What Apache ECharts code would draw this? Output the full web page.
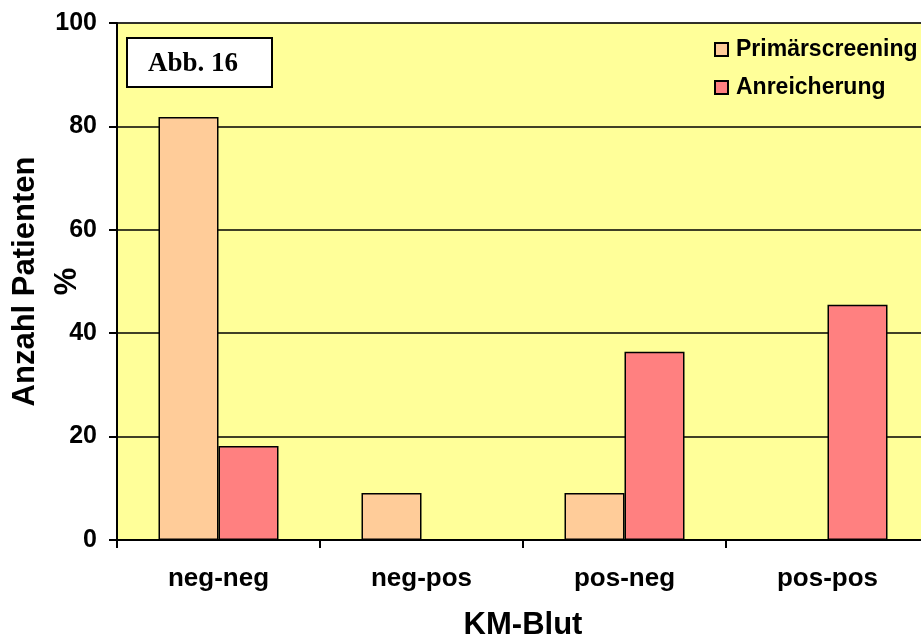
<!DOCTYPE html>
<html>
<head>
<meta charset="utf-8">
<script src="https://cdn.jsdelivr.net/npm/echarts@6/dist/echarts.min.js"></script>
<style>
html,body{margin:0;padding:0;background:#fff;}
#chart{width:921px;height:637px;}
</style>
</head>
<body>
<div id="chart"></div>
<script>
const categories = ['neg-neg', 'neg-pos', 'pos-neg', 'pos-pos'];
const primaer = [81.8, 9.1, 9.1, 0];
const anreicherung = [18.2, 0, 36.4, 45.5];
const seriesNames = ['Primärscreening', 'Anreicherung'];
const yTicks = { min: 0, max: 100, interval: 20 };

const FONT = '"Liberation Sans", Arial, sans-serif';
const chart = echarts.init(document.getElementById('chart'), null, { renderer: 'canvas' });

const barStyle = (color) => ({ color: color, borderColor: '#000', borderWidth: 1.5 });

chart.setOption({
  animation: false,
  backgroundColor: '#ffffff',
  grid: { left: 117, top: 23, right: -8, bottom: 97, containLabel: false, outerBoundsMode: 'none', show: true, backgroundColor: '#FFFF99', borderColor: '#808080', borderWidth: 1 },
  legend: {
    orient: 'vertical',
    left: 709,
    top: 33,
    itemWidth: 13,
    itemHeight: 13,
    itemGap: 15,
    icon: 'rect',
    textStyle: { fontFamily: FONT, fontWeight: 'bold', fontSize: 23, color: '#000', padding: [0, 0, 0, 3] },
    data: seriesNames
  },
  xAxis: {
    type: 'category',
    data: categories,
    axisLine: { lineStyle: { color: '#000', width: 2 } },
    axisTick: { show: true, length: 8, inside: false, lineStyle: { color: '#000', width: 2 }, alignWithLabel: false },
    axisLabel: { fontFamily: FONT, fontWeight: 'bold', fontSize: 26, color: '#000', margin: 26 },
    name: 'KM-Blut',
    nameLocation: 'middle',
    nameGap: 70,
    nameMoveOverlap: false,
    nameTextStyle: { fontFamily: FONT, fontWeight: 'bold', fontSize: 31, color: '#000' }
  },
  yAxis: {
    type: 'value',
    min: yTicks.min,
    max: yTicks.max,
    interval: yTicks.interval,
    axisLine: { show: true, lineStyle: { color: '#000', width: 2 } },
    axisTick: { show: true, length: 8, lineStyle: { color: '#000', width: 2 } },
    axisLabel: { fontFamily: FONT, fontWeight: 'bold', fontSize: 25, color: '#000', margin: 20 },
    splitLine: { show: true, lineStyle: { color: '#000', width: 1.5 } },
    name: 'Anzahl Patienten\n%',
    nameLocation: 'middle',
    nameRotate: 90,
    nameGap: 29,
    nameMoveOverlap: false,
    nameTextStyle: { fontFamily: FONT, fontWeight: 'bold', fontSize: 31, color: '#000', lineHeight: 42 }
  },
  series: [
    { name: seriesNames[0], type: 'bar', data: primaer, barWidth: 60, barGap: '0%', itemStyle: barStyle('#FFCC99') },
    { name: seriesNames[1], type: 'bar', data: anreicherung, barWidth: 60, barGap: '0%', itemStyle: barStyle('#FF8080') }
  ],
  graphic: [
    { type: 'rect', shape: { x: 127, y: 38, width: 145, height: 49 }, style: { fill: '#fff', stroke: '#000', lineWidth: 2 }, z: 100 },
    { type: 'text', x: 193, y: 64, style: { text: 'Abb. 16', font: 'bold 27px "Liberation Serif", "Times New Roman", serif', fill: '#000', align: 'center', verticalAlign: 'middle' }, z: 101 }
  ]
});
</script>
</body>
</html>
